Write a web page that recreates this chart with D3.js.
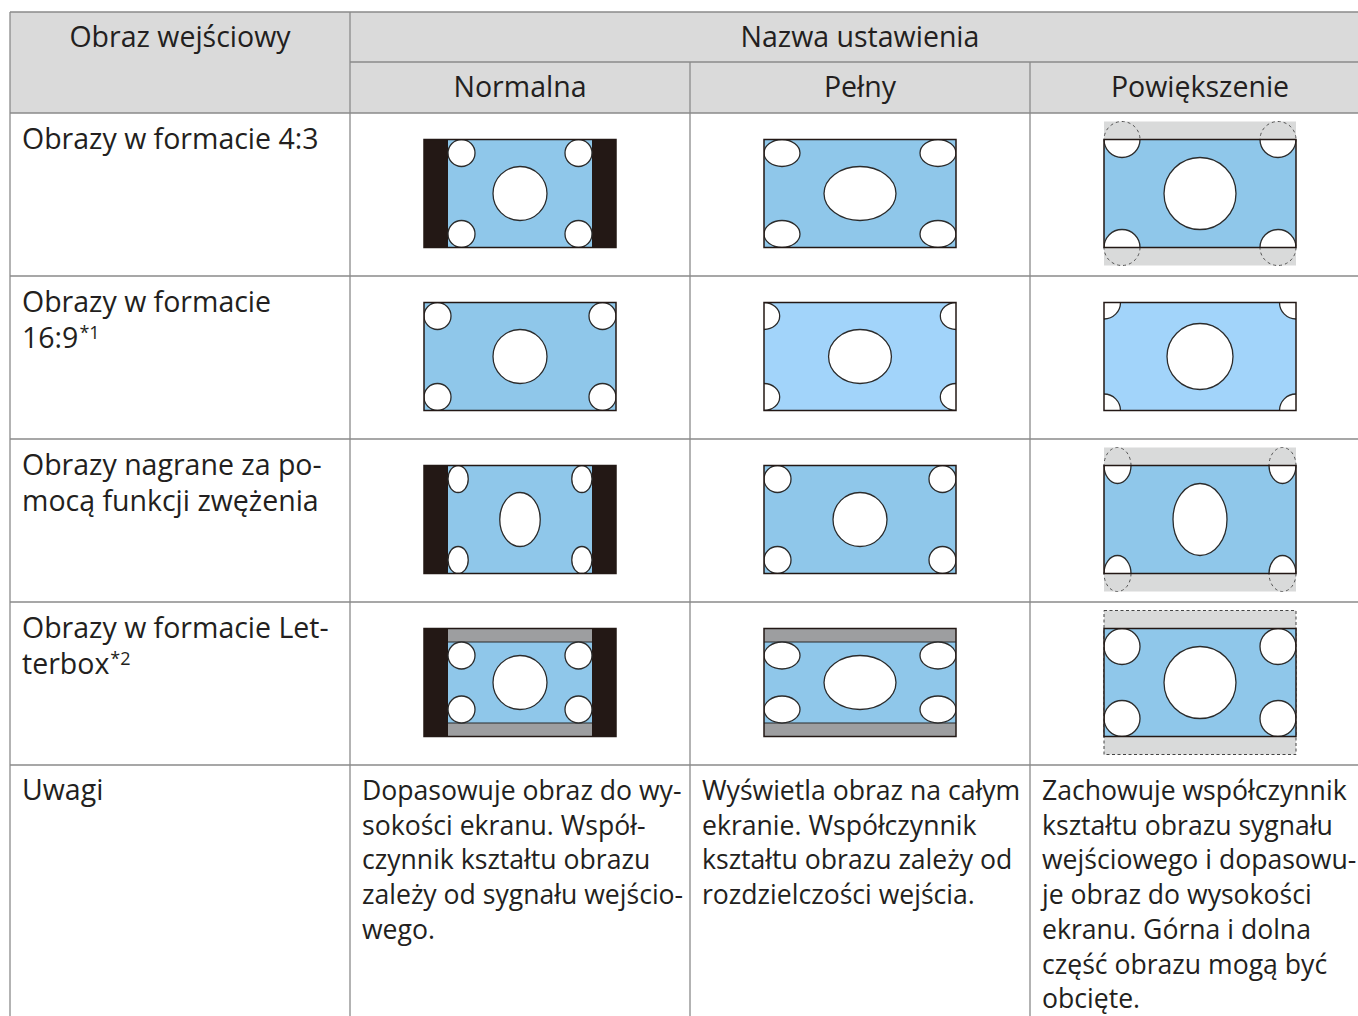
<!DOCTYPE html>
<html><head><meta charset="utf-8">
<script src="https://cdn.jsdelivr.net/npm/d3@7"></script>
<style>
body{margin:0;background:#fff}
svg{display:block}
text{font-family:"Open Sans","Noto Sans",sans-serif;fill:#231f20}
</style>
</head><body>
<svg id="c" width="1358" height="1016"></svg>
<script>
// ---------- data ----------
const inputHeader = "Obraz wejściowy";
const groupHeader = "Nazwa ustawienia";
const modes = ["Normalna", "Pełny", "Powiększenie"];
const inputKeys = ["4:3", "16:9", "squeeze", "letterbox"];
const inputLabels = [
  ["Obrazy w formacie 4:3"],
  ["Obrazy w formacie", "16:9"],
  ["Obrazy nagrane za po-", "mocą funkcji zwężenia"],
  ["Obrazy w formacie Let-", "terbox"]
];
const inputFootnotes = ["", "*1", "", "*2"];
const notesLabel = "Uwagi";
const notes = [
  ["Dopasowuje obraz do wy-", "sokości ekranu. Współ-", "czynnik kształtu obrazu", "zależy od sygnału wejścio-", "wego."],
  ["Wyświetla obraz na całym", "ekranie. Współczynnik", "kształtu obrazu zależy od", "rozdzielczości wejścia."],
  ["Zachowuje współczynnik", "kształtu obrazu sygnału", "wejściowego i dopasowu-", "je obraz do wysokości", "ekranu. Górna i dolna", "część obrazu mogą być", "obcięte."]
];
// source picture of each input: aspect ratio, horizontal squeeze of the circles, letterbox bar share
const sourceAspect = [4/3, 16/9, 4/3, 4/3];
const sourceSqueeze = [1, 1, 0.75, 1];
const sourceLetterbox = [0, 0, 0, 0.125];
// scaling applied by each mode (rows = inputs, cols = modes)
const modeScaleX = [[1, 4/3, 4/3], [1, 1.164, 1.222], [1, 4/3, 4/3], [1, 4/3, 4/3]];
const modeScaleY = [[1, 1, 4/3], [1, 1, 1.222], [1, 1, 4/3], [1, 1, 4/3]];
const showOverflow = [[false, false, true], [false, false, false], [false, false, true], [false, false, true]];
const lightTone = [[false, false, false], [false, true, true], [false, false, false], [false, false, false]];
const cornerPinned = [[false, false, false], [false, false, true], [false, false, false], [false, false, false]];

// ---------- layout ----------
const svg = d3.select("#c");
const W = 1358;
const colNames = ["input", ...modes];
const x = d3.scaleBand().domain(colNames).range([10, 1370]);
const top0 = 12, h1 = 50, h2 = 51;
const bodyTop = top0 + h1 + h2;
const y = d3.scaleBand().domain([...inputKeys, "notes"]).range([bodyTop, bodyTop + 163 * 5]);

const C = {
  grid: "#8a8a8a", head: "#dadada", black: "#231815", blue: "#8fc7ea", blueLight: "#a2d4fa",
  lbBar: "#9d9ea0", overflow: "#d9dada", stroke: "#2b2b2b"
};
const FS = 28.5, FSN = 26.6;

// header backgrounds
svg.append("rect").attr("x", x("input")).attr("y", top0).attr("width", W - x("input")).attr("height", h1 + h2).attr("fill", C.head);

// grid lines
const gridG = svg.append("g").attr("stroke", C.grid).attr("stroke-width", 1.3).attr("fill", "none");
const hLines = [top0, bodyTop, ...inputKeys.map(k => y(k) + y.bandwidth())];
gridG.selectAll("line.h").data(hLines).join("line")
  .attr("x1", x("input")).attr("x2", W).attr("y1", d => d).attr("y2", d => d);
gridG.append("line").attr("x1", x(modes[0])).attr("x2", W).attr("y1", top0 + h1).attr("y2", top0 + h1);
gridG.selectAll("line.v").data(colNames).join("line")
  .attr("x1", d => x(d)).attr("x2", d => x(d))
  .attr("y1", (d, i) => (i === 0 || i === 1) ? top0 : top0 + h1).attr("y2", 1016 + 10);

// header texts
svg.append("text").attr("x", x("input") + x.bandwidth() / 2).attr("y", top0 + 35)
  .attr("text-anchor", "middle").attr("font-size", FS).text(inputHeader);
svg.append("text").attr("x", x(modes[0]) + 1.5 * x.bandwidth()).attr("y", top0 + 35)
  .attr("text-anchor", "middle").attr("font-size", FS).text(groupHeader);
svg.selectAll("text.mode").data(modes).join("text").attr("class", "mode")
  .attr("x", d => x(d) + x.bandwidth() / 2).attr("y", top0 + h1 + 35)
  .attr("text-anchor", "middle").attr("font-size", FS).text(d => d);

// row labels
inputKeys.forEach((k, i) => {
  let lastNode = null, lastY = 0;
  inputLabels[i].forEach((line, li) => {
    lastY = y(k) + 36 + li * 36;
    lastNode = svg.append("text").attr("x", x("input") + 12).attr("y", lastY).attr("font-size", FS).text(line);
  });
  if (inputFootnotes[i]) {
    const wLast = lastNode.node().getComputedTextLength();
    svg.append("text").attr("x", x("input") + 12 + wLast + 1).attr("y", lastY - 9)
      .attr("font-size", 18).text(inputFootnotes[i]);
  }
});
svg.append("text").attr("x", x("input") + 12).attr("y", y("notes") + 35).attr("font-size", FS).text(notesLabel);
modes.forEach((m, j) => {
  const t = svg.append("text").attr("font-size", FSN);
  t.selectAll("tspan").data(notes[j]).join("tspan")
    .attr("x", x(m) + 12).attr("y", (d, li) => y("notes") + 35 + li * 34.7).text(d => d);
});

// ---------- illustrations ----------
const FH = 108, FW = 192;
let clipId = 0;
inputKeys.forEach((k, i) => {
  modes.forEach((m, j) => {
    const cx = x(m) + x.bandwidth() / 2, cy = y(k) + y.bandwidth() / 2 - 1;
    const g = svg.append("g").attr("transform", `translate(${cx},${cy})`);
    const sx = modeScaleX[i][j], sy = modeScaleY[i][j];
    const w = FH * sourceAspect[i];
    const lb = sourceLetterbox[i] * FH;
    const sq = sourceSqueeze[i];
    const ch = FH - 2 * lb;
    const R = FH / 4, r = FH / 8;
    const IW = w * sx, IH = FH * sy;
    const shapes = [{cx: 0, cy: 0, rx: R * sq * sx, ry: R * sy}];
    [[-1, -1], [1, -1], [-1, 1], [1, 1]].forEach(([a, b]) => {
      let px = a * (w / 2 - r * sq) * sx, py = b * (ch / 2 - r) * sy;
      if (cornerPinned[i][j]) { px = a * FW / 2; py = b * FH / 2; }
      shapes.push({cx: px, cy: py, rx: r * sq * sx, ry: r * sy});
    });
    if (showOverflow[i][j] && (IH > FH || IW > FW)) {
      g.append("rect").attr("x", -IW / 2).attr("y", -IH / 2).attr("width", IW).attr("height", IH).attr("fill", C.overflow);
      if (lb > 0) {
        g.append("rect").attr("x", -IW / 2).attr("y", -IH / 2).attr("width", IW).attr("height", IH)
          .attr("fill", "none").attr("stroke", "#444").attr("stroke-width", 1).attr("stroke-dasharray", "3,2.5");
      } else {
        g.selectAll("ellipse.ov").data(shapes).join("ellipse").attr("class", "ov")
          .attr("cx", d => d.cx).attr("cy", d => d.cy).attr("rx", d => d.rx).attr("ry", d => d.ry)
          .attr("fill", "none").attr("stroke", "#555").attr("stroke-width", 1).attr("stroke-dasharray", "3,3");
      }
    }
    const id = "clip" + (clipId++);
    g.append("clipPath").attr("id", id).append("rect").attr("x", -FW / 2).attr("y", -FH / 2).attr("width", FW).attr("height", FH);
    const inner = g.append("g").attr("clip-path", `url(#${id})`);
    inner.append("rect").attr("x", -FW / 2).attr("y", -FH / 2).attr("width", FW).attr("height", FH).attr("fill", C.black);
    inner.append("rect").attr("x", -IW / 2).attr("y", -IH / 2).attr("width", IW).attr("height", IH).attr("fill", C.lbBar);
    inner.append("rect").attr("x", -IW / 2).attr("y", -ch / 2 * sy).attr("width", IW).attr("height", ch * sy)
      .attr("fill", lightTone[i][j] ? C.blueLight : C.blue);
    if (lb > 0) {
      inner.selectAll("line.lb").data([-1, 1]).join("line")
        .attr("x1", -IW / 2).attr("x2", IW / 2).attr("y1", d => d * ch / 2 * sy).attr("y2", d => d * ch / 2 * sy)
        .attr("stroke", C.stroke).attr("stroke-width", 1.2);
    }
    inner.selectAll("ellipse").data(shapes).join("ellipse")
      .attr("cx", d => d.cx).attr("cy", d => d.cy).attr("rx", d => d.rx).attr("ry", d => d.ry)
      .attr("fill", "#fff").attr("stroke", C.stroke).attr("stroke-width", 1.3);
    g.append("rect").attr("x", -FW / 2).attr("y", -FH / 2).attr("width", FW).attr("height", FH)
      .attr("fill", "none").attr("stroke", C.black).attr("stroke-width", 1.5);
  });
});
</script>
</body></html>
